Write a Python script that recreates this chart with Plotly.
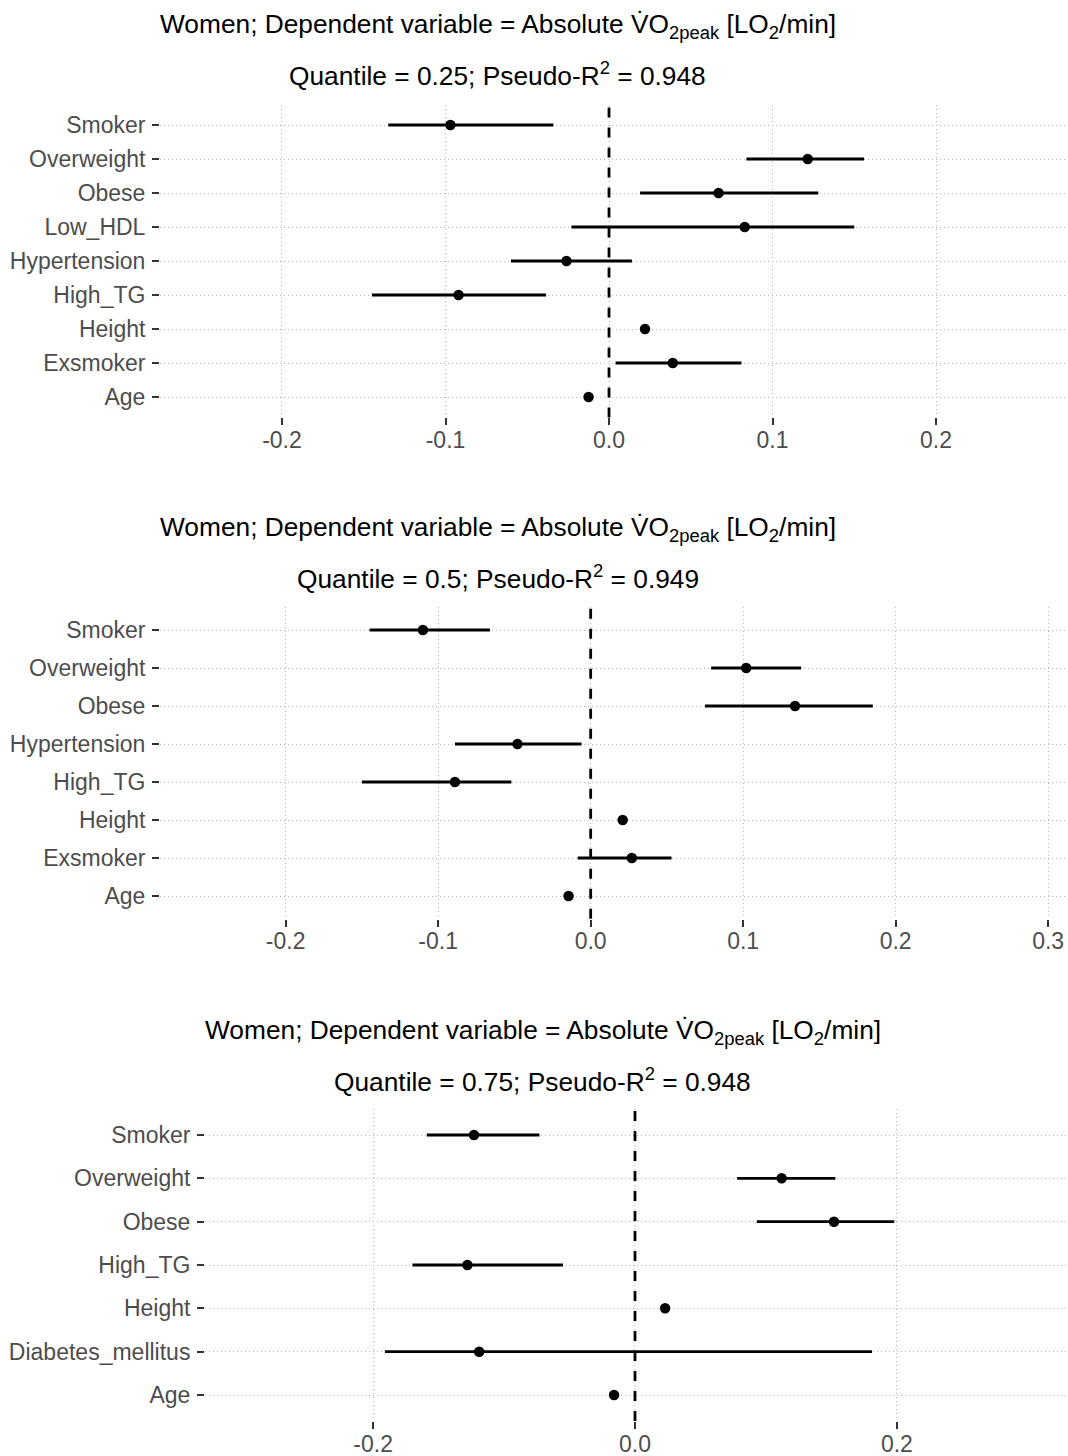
import plotly.graph_objects as go

# ---------------- data ----------------
vars1 = ["Smoker", "Overweight", "Obese", "Low_HDL", "Hypertension", "High_TG", "Height", "Exsmoker", "Age"]
est1 = [-0.097, 0.1215, 0.067, 0.083, -0.026, -0.092, 0.022, 0.039, -0.0125]
lo1 = [-0.135, 0.084, 0.019, -0.023, -0.060, -0.145, 0.021, 0.004, -0.0135]
hi1 = [-0.034, 0.156, 0.128, 0.150, 0.014, -0.0385, 0.023, 0.081, -0.0115]

vars2 = ["Smoker", "Overweight", "Obese", "Hypertension", "High_TG", "Height", "Exsmoker", "Age"]
est2 = [-0.110, 0.102, 0.134, -0.048, -0.089, 0.021, 0.027, -0.0145]
lo2 = [-0.145, 0.079, 0.075, -0.089, -0.150, 0.020, -0.0085, -0.0155]
hi2 = [-0.066, 0.138, 0.185, -0.006, -0.052, 0.022, 0.053, -0.0135]

vars3 = ["Smoker", "Overweight", "Obese", "High_TG", "Height", "Diabetes_mellitus", "Age"]
est3 = [-0.123, 0.112, 0.152, -0.128, 0.023, -0.119, -0.016]
lo3 = [-0.159, 0.078, 0.093, -0.170, 0.022, -0.191, -0.017]
hi3 = [-0.073, 0.153, 0.198, -0.055, 0.024, 0.181, -0.015]

quantiles = ["0.25", "0.5", "0.75"]
pseudo_r2 = ["0.948", "0.949", "0.948"]
xticks1 = [-0.2, -0.1, 0.0, 0.1, 0.2]
xticks2 = [-0.2, -0.1, 0.0, 0.1, 0.2, 0.3]
xticks3 = [-0.2, 0.0, 0.2]

# ---------------- layout geometry ----------------
W, H = 1068, 1456
FONT = "Liberation Sans, Arial, sans-serif"
panels = [
    dict(vars=vars1, est=est1, lo=lo1, hi=hi1, ticks=xticks1,
         xr=[-0.2746, 0.2807], left=160, top=104.6, bottom=417.4, t1=26, t2=75),
    dict(vars=vars2, est=est2, lo=lo2, hi=hi2, ticks=xticks2,
         xr=[-0.2824, 0.313], left=160, top=607.2, bottom=918.8, t1=529, t2=578),
    dict(vars=vars3, est=est3, lo=lo3, hi=hi3, ticks=xticks3,
         xr=[-0.3284, 0.3307], left=205, top=1109, bottom=1421, t1=1032, t2=1081),
]

fig = go.Figure()
layout = dict(
    width=W, height=H,
    margin=dict(l=0, r=0, t=0, b=0),
    paper_bgcolor="white", plot_bgcolor="white",
    showlegend=False,
    font=dict(family=FONT, color="black"),
)
annotations = []
shapes = []

for i, p in enumerate(panels):
    k = "" if i == 0 else str(i + 1)
    xa, ya = "x" + k, "y" + k
    est = p["est"]
    plus = [h - e for h, e in zip(p["hi"], est)]
    minus = [e - l for e, l in zip(est, p["lo"])]
    fig.add_trace(go.Scatter(
        x=est, y=p["vars"], xaxis=xa, yaxis=ya, mode="markers",
        marker=dict(color="black", size=10.5),
        error_x=dict(type="data", symmetric=False, array=plus, arrayminus=minus,
                     color="black", thickness=2.8, width=0),
        hoverinfo="skip",
    ))
    n = len(p["vars"])
    dom_y = [1 - p["bottom"] / H, 1 - p["top"] / H]
    dom_x = [p["left"] / W, 1.0]
    layout["xaxis" + k] = dict(
        domain=dom_x, anchor=ya, range=p["xr"],
        tickmode="array", tickvals=p["ticks"],
        ticktext=[f"{v:.1f}" for v in p["ticks"]],
        ticks="outside", ticklen=7, tickwidth=2, tickcolor="#333333",
        ticklabelstandoff=-5,
        tickfont=dict(family=FONT, size=23, color="#4D4D4D"),
        showgrid=True, gridcolor="#B5B5B5", gridwidth=1, griddash="1px,3px",
        zeroline=False, showline=False, fixedrange=True, automargin=False,
    )
    layout["yaxis" + k] = dict(
        domain=dom_y, anchor=xa, type="category",
        categoryorder="array", categoryarray=list(reversed(p["vars"])),
        range=[-0.6, n - 0.4],
        ticks="outside", ticklen=7, tickwidth=2, tickcolor="#333333",
        ticklabelstandoff=2,
        tickfont=dict(family=FONT, size=23, color="#4D4D4D"),
        showgrid=True, gridcolor="#B5B5B5", gridwidth=1, griddash="1px,3px",
        zeroline=False, showline=False, fixedrange=True, automargin=False,
    )
    shapes.append(dict(
        type="line", xref=xa, yref=ya + " domain", x0=0, x1=0, y0=0, y1=1,
        line=dict(color="black", width=2.8, dash="10px,10px"), layer="above",
    ))
    cx = (p["left"] + 337.5) / W
    annotations.append(dict(
        text="Women; Dependent variable = Absolute V\u0307O<sub>2peak</sub> [LO<sub>2</sub>/min]",
        xref="paper", yref="paper", x=cx, y=1 - p["t1"] / H,
        xanchor="center", yanchor="middle", showarrow=False,
        font=dict(family=FONT, size=26.3, color="black"),
    ))
    annotations.append(dict(
        text=f"Quantile = {quantiles[i]}; Pseudo-R<sup>2</sup> = {pseudo_r2[i]}",
        xref="paper", yref="paper", x=cx, y=1 - (p["t2"] - 1) / H,
        xanchor="center", yanchor="middle", showarrow=False,
        font=dict(family=FONT, size=26.3, color="black"),
    ))

layout["annotations"] = annotations
layout["shapes"] = shapes
fig.update_layout(**layout)
fig.write_html("out.html")
